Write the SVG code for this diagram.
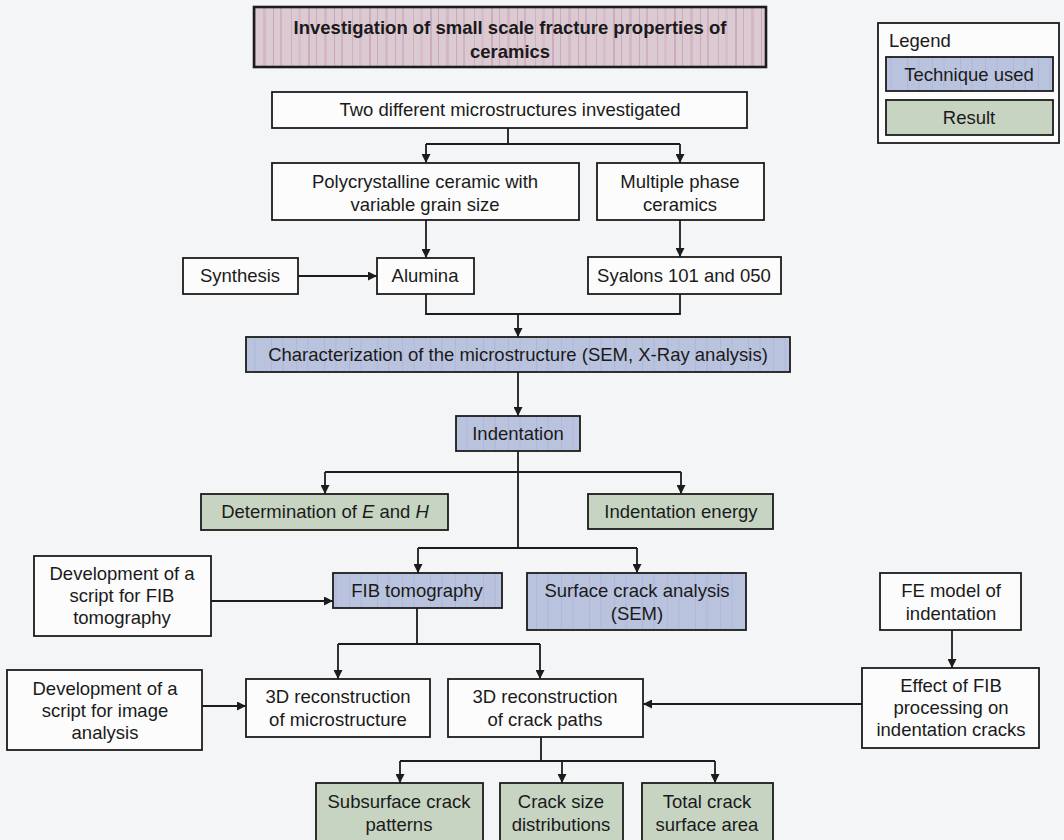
<svg xmlns="http://www.w3.org/2000/svg" width="1064" height="840" viewBox="0 0 1064 840">
<defs>
<style>
text{font-family:"Liberation Sans",Arial,sans-serif;font-size:18.5px;fill:#1a1a1a;text-anchor:middle}
.b{stroke:#1c1c1c;stroke-width:1.8}
.w{fill:#fcfcfc}
.blue{fill:url(#blueStreak)}
.green{fill:#c7d4c2}
.ln{fill:none;stroke:#1c1c1c;stroke-width:1.8}
.ar{fill:none;stroke:#1c1c1c;stroke-width:1.8;marker-end:url(#ah)}
.tt{font-weight:bold}
</style>
<marker id="ah" viewBox="0 0 10 10" refX="10" refY="5" markerWidth="5" markerHeight="5" orient="auto" markerUnits="strokeWidth">
<path d="M0,0 L10,5 L0,10 z" fill="#1c1c1c"/>
</marker>
<pattern id="pinkStreak" patternUnits="userSpaceOnUse" width="61" height="20">
<rect width="61" height="20" fill="#dccad3"/>
<rect x="3" width="2" height="20" fill="#c89fb3" opacity="0.7"/>
<rect x="11" width="1" height="20" fill="#c295ab" opacity="0.6"/>
<rect x="19" width="3" height="20" fill="#d1b0c0" opacity="0.7"/>
<rect x="29" width="1" height="20" fill="#bf90a7" opacity="0.6"/>
<rect x="36" width="2" height="20" fill="#cca7b9" opacity="0.7"/>
<rect x="47" width="1" height="20" fill="#c295ab" opacity="0.5"/>
<rect x="54" width="3" height="20" fill="#d3b5c4" opacity="0.6"/>
</pattern>
<pattern id="blueStreak" patternUnits="userSpaceOnUse" width="53" height="20">
<rect width="53" height="20" fill="#b9c3de"/>
<rect x="6" width="1" height="20" fill="#a9aed3" opacity="0.6"/>
<rect x="17" width="2" height="20" fill="#b0b6d8" opacity="0.6"/>
<rect x="31" width="1" height="20" fill="#a7abd0" opacity="0.5"/>
<rect x="42" width="2" height="20" fill="#b2b8d9" opacity="0.5"/>
</pattern>
</defs>
<rect width="1064" height="840" fill="#f4f5f6"/>

<g id="connectors">
<path class="ln" d="M508,128 V144 M426,144 H680"/>
<path class="ar" d="M426,144 V163"/>
<path class="ar" d="M680,144 V163"/>
<path class="ar" d="M426,220 V258"/>
<path class="ar" d="M680,220 V257"/>
<path class="ar" d="M298,276 H377"/>
<path class="ln" d="M426,294 V314 H680 V294"/>
<path class="ar" d="M518,314 V337"/>
<path class="ar" d="M518,372 V416"/>
<path class="ln" d="M518,451 V548 M325,472 H681 M418,548 H637"/>
<path class="ar" d="M325,472 V494"/>
<path class="ar" d="M681,472 V494"/>
<path class="ar" d="M418,548 V573"/>
<path class="ar" d="M637,548 V573"/>
<path class="ar" d="M211,601 H333"/>
<path class="ln" d="M417,608 V644 M338,644 H540"/>
<path class="ar" d="M338,644 V679"/>
<path class="ar" d="M540,644 V679"/>
<path class="ar" d="M952,630 V668"/>
<path class="ar" d="M862,704 H643"/>
<path class="ar" d="M202,706 H246"/>
<path class="ln" d="M541,737 V761 M400,761 H715"/>
<path class="ar" d="M400,761 V783"/>
<path class="ar" d="M562,761 V783"/>
<path class="ar" d="M715,761 V783"/>
</g>

<g id="title">
<rect x="254" y="7" width="512" height="60" fill="url(#pinkStreak)" stroke="#1c1c1c" stroke-width="2.6"/>
<text class="tt" x="510" y="34">Investigation of small scale fracture properties of</text>
<text class="tt" x="510" y="58">ceramics</text>
</g>

<g id="legend">
<rect x="878" y="23" width="181" height="120" class="w b"/>
<text x="889" y="47" style="text-anchor:start">Legend</text>
<rect x="886" y="57" width="167" height="34" class="blue b"/>
<text x="969" y="81">Technique used</text>
<rect x="886" y="100" width="167" height="35" class="green b"/>
<text x="969" y="124">Result</text>
</g>

<g id="two-microstructures">
<rect x="272" y="92" width="475" height="36" class="w b"/>
<text x="510" y="116">Two different microstructures investigated</text>
</g>

<g id="polycrystalline">
<rect x="272" y="163" width="307" height="57" class="w b"/>
<text x="425" y="188">Polycrystalline ceramic with</text>
<text x="425" y="211">variable grain size</text>
</g>

<g id="multiple-phase">
<rect x="597" y="163" width="167" height="57" class="w b"/>
<text x="680" y="188">Multiple phase</text>
<text x="680" y="211">ceramics</text>
</g>

<g id="synthesis">
<rect x="183" y="258" width="115" height="36" class="w b"/>
<text x="240" y="282">Synthesis</text>
</g>

<g id="alumina">
<rect x="377" y="258" width="97" height="36" class="w b"/>
<text x="425" y="282">Alumina</text>
</g>

<g id="syalons">
<rect x="588" y="257" width="193" height="37" class="w b"/>
<text x="684" y="282">Syalons 101 and 050</text>
</g>

<g id="characterization">
<rect x="246" y="337" width="544" height="35" class="blue b"/>
<text x="518" y="361">Characterization of the microstructure (SEM, X-Ray analysis)</text>
</g>

<g id="indentation">
<rect x="456" y="416" width="124" height="35" class="blue b"/>
<text x="518" y="440">Indentation</text>
</g>

<g id="determination">
<rect x="201" y="494" width="247" height="36" class="green b"/>
<text x="325" y="518">Determination of <tspan font-style="italic">E</tspan> and <tspan font-style="italic">H</tspan></text>
</g>

<g id="indentation-energy">
<rect x="588" y="494" width="185" height="35" class="green b"/>
<text x="681" y="518">Indentation energy</text>
</g>

<g id="dev-fib-script">
<rect x="34" y="556" width="177" height="80" class="w b"/>
<text x="122" y="580">Development of a</text>
<text x="122" y="602">script for FIB</text>
<text x="122" y="624">tomography</text>
</g>

<g id="fib-tomography">
<rect x="333" y="573" width="169" height="35" class="blue b"/>
<text x="417" y="597">FIB tomography</text>
</g>

<g id="surface-crack">
<rect x="527" y="573" width="219" height="57" class="blue b"/>
<text x="637" y="597">Surface crack analysis</text>
<text x="637" y="620">(SEM)</text>
</g>

<g id="fe-model">
<rect x="880" y="573" width="141" height="57" class="w b"/>
<text x="951" y="597">FE model of</text>
<text x="951" y="620">indentation</text>
</g>

<g id="effect-fib">
<rect x="862" y="668" width="177" height="80" class="w b"/>
<text x="951" y="692">Effect of FIB</text>
<text x="951" y="714">processing on</text>
<text x="951" y="736">indentation cracks</text>
</g>

<g id="dev-image-script">
<rect x="7" y="670" width="195" height="80" class="w b"/>
<text x="105" y="695">Development of a</text>
<text x="105" y="717">script for image</text>
<text x="105" y="739">analysis</text>
</g>

<g id="recon-microstructure">
<rect x="246" y="679" width="184" height="58" class="w b"/>
<text x="338" y="703">3D reconstruction</text>
<text x="338" y="726">of microstructure</text>
</g>

<g id="recon-crack">
<rect x="448" y="679" width="195" height="58" class="w b"/>
<text x="545" y="703">3D reconstruction</text>
<text x="545" y="726">of crack paths</text>
</g>

<g id="subsurface">
<rect x="316" y="783" width="167" height="62" class="green b"/>
<text x="399" y="808">Subsurface crack</text>
<text x="399" y="831">patterns</text>
</g>

<g id="crack-size">
<rect x="500" y="783" width="123" height="62" class="green b"/>
<text x="561" y="808">Crack size</text>
<text x="561" y="831">distributions</text>
</g>

<g id="total-crack">
<rect x="642" y="783" width="131" height="62" class="green b"/>
<text x="707" y="808">Total crack</text>
<text x="707" y="831">surface area</text>
</g>
</svg>
